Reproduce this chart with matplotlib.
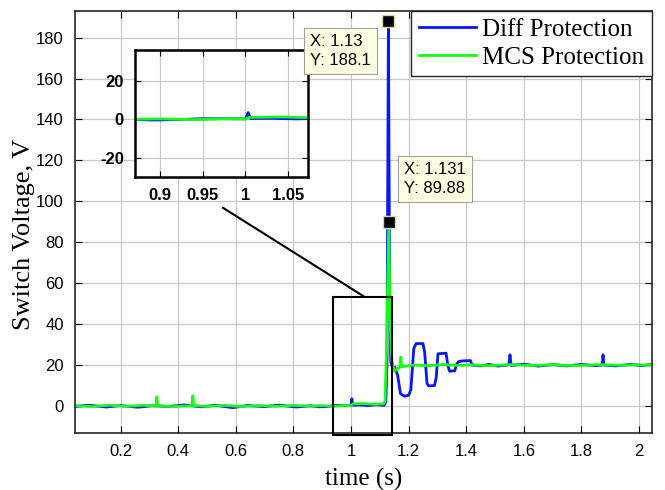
import matplotlib.pyplot as plt
from matplotlib.patches import Rectangle

# ---- data ----
diff_t = [0.04, 0.09, 0.15, 0.2, 0.26, 0.31, 0.37, 0.42, 0.48, 0.53, 0.59, 0.64,
          0.7, 0.75, 0.81, 0.86, 0.89, 0.92, 0.95, 0.97, 1.0, 1.003, 1.006, 1.03,
          1.06, 1.09, 1.115, 1.121, 1.125, 1.13, 1.134, 1.138, 1.145, 1.152, 1.162,
          1.172, 1.185, 1.2, 1.208, 1.218, 1.226, 1.25, 1.256, 1.264, 1.27, 1.29,
          1.296, 1.302, 1.33, 1.336, 1.342, 1.36, 1.366, 1.372, 1.385, 1.415, 1.42,
          1.45, 1.48, 1.51, 1.548, 1.552, 1.556, 1.6, 1.65, 1.7, 1.75, 1.8, 1.85,
          1.872, 1.875, 1.878, 1.92, 1.97, 2.01, 2.045]
diff_v = [-0.3, 0.4, -0.5, 0.2, -0.6, 0.1, -0.2, 0.5, -0.4, 0.3, -0.8, 0.2,
          -0.3, 0.4, -0.5, 0.1, -0.4, -0.2, 0.3, 0.3, 0.2, 3.5, 0.4, 0.5,
          0.2, 0.6, 0.3, 2.0, 20.0, 188.1, 60.0, 22.0, 18.0, 19.0, 15.0,
          6.0, 4.8, 5.2, 8.0, 28.0, 30.5, 30.5, 26.0, 11.0, 9.8, 10.0,
          14.0, 25.5, 25.8, 20.0, 17.0, 17.2, 20.0, 21.6, 22.0, 22.2, 20.0,
          19.6, 20.3, 19.5, 20.1, 25.0, 19.8, 20.4, 19.5, 20.2, 19.6, 20.3, 19.7,
          20.0, 25.0, 20.0, 19.6, 20.3, 19.8, 20.2]

mcs_t = [0.04, 0.1, 0.16, 0.22, 0.28, 0.323, 0.326, 0.329, 0.38, 0.448, 0.451,
         0.454, 0.5, 0.56, 0.62, 0.68, 0.74, 0.8, 0.86, 0.9, 0.94, 0.98, 1.0,
         1.005, 1.04, 1.08, 1.112, 1.118, 1.124, 1.131, 1.136, 1.142, 1.15, 1.16,
         1.17, 1.173, 1.176, 1.179, 1.19, 1.22, 1.27, 1.32, 1.37, 1.42, 1.48,
         1.55, 1.62, 1.7, 1.78, 1.86, 1.94, 2.0, 2.045]
mcs_v = [0.2, -0.3, 0.4, -0.2, 0.3, 0.0, 4.5, 0.2, -0.3, 0.1, 5.0,
         0.2, -0.2, 0.3, -0.3, 0.2, -0.2, 0.3, -0.1, 0.2, -0.2, 0.3, 0.2,
         1.0, 1.2, 0.8, 1.0, 2.0, 30.0, 89.88, 40.0, 22.0, 17.0, 18.0,
         19.0, 24.0, 19.0, 19.2, 19.5, 20.0, 19.7, 20.2, 19.8, 20.1, 19.7,
         20.2, 19.8, 20.1, 19.7, 20.2, 19.9, 20.1, 20.0]

x_ticks = [0.2, 0.4, 0.6, 0.8, 1.0, 1.2, 1.4, 1.6, 1.8, 2.0]
x_labels = ['0.2', '0.4', '0.6', '0.8', '1', '1.2', '1.4', '1.6', '1.8', '2']
y_ticks = [0, 20, 40, 60, 80, 100, 120, 140, 160, 180]
inset_x_ticks = [0.9, 0.95, 1.0, 1.05]
inset_x_labels = ['0.9', '0.95', '1', '1.05']
inset_y_ticks = [-20, 0, 20]

tip1 = (1.13, 188.1)
tip2 = (1.131, 89.88)

BLUE = '#0a14ff'
GREEN = '#14ff14'
GRID = '#c8c8c8'

plt.rcParams['font.family'] = 'Liberation Sans'
plt.rcParams['axes.unicode_minus'] = False

fig = plt.figure(figsize=(6.65, 4.9), dpi=100)
ax = fig.add_axes([75 / 665, 1 - 433 / 490, 577 / 665, 422 / 490])

ax.plot(diff_t, diff_v, color=BLUE, lw=2.0, label='Diff Protection')
ax.plot(mcs_t, mcs_v, color=GREEN, lw=2.0, label='MCS Protection')

ax.set_xlim(0.042, 2.045)
ax.set_ylim(-13.2, 193)
ax.set_xticks(x_ticks)
ax.set_xticklabels(x_labels)
ax.set_yticks(y_ticks)
ax.grid(True, color=GRID, lw=0.9)
ax.set_axisbelow(True)
ax.tick_params(direction='in', top=True, right=True, length=5, labelsize=12, pad=8)
for s in ax.spines.values():
    s.set_linewidth(1.2)
    s.set_color('#262626')

ax.set_xlabel('time (s)', fontsize=18, family='Liberation Serif', labelpad=6)
ax.set_ylabel('Switch Voltage, V', fontsize=19, family='Liberation Serif')
ax.yaxis.set_label_coords(-0.07, 0.47)

leg = ax.legend(loc='upper right', borderaxespad=0, fancybox=False, framealpha=1,
                edgecolor='#262626', handlelength=2.3, handletextpad=0.25,
                labelspacing=0.2, borderpad=0.3,
                prop={'family': 'Liberation Serif', 'size': 18})
leg.get_frame().set_linewidth(1.0)

# zoom box and connector
ax.add_patch(Rectangle((0.9375, -14.0), 0.2045, 67.3, fill=False, ec='black',
                       lw=1.5, clip_on=False, zorder=4))
ax.plot([1.045, 0.556], [53.5, 96.8], color='black', lw=1.5, zorder=4)

# data tips
for tx, ty in [tip1, tip2]:
    ax.plot([tx], [ty], marker='s', ms=9, color='black', mec='#d8d8a8', mew=1,
            zorder=6, clip_on=False)
bbox = dict(boxstyle='square,pad=0.35', fc='#ffffe1', ec='#a0a0a0', lw=0.8)
fig.text(310 / 665, 1 - 34 / 490, 'X: 1.13\nY: 188.1', fontsize=12, va='top',
         ha='left', bbox=bbox, linespacing=1.35, zorder=10)
fig.text(404 / 665, 1 - 162 / 490, 'X: 1.131\nY: 89.88', fontsize=12, va='top',
         ha='left', bbox=bbox, linespacing=1.35, zorder=10)

# inset
ins = fig.add_axes([135 / 665, 1 - 177 / 490, 173 / 665, 127 / 490])
ins.plot(diff_t, diff_v, color=BLUE, lw=2.0)
ins.plot(mcs_t, mcs_v, color=GREEN, lw=2.0)
ins.set_xlim(0.871, 1.073)
ins.set_ylim(-30, 36)
ins.set_xticks(inset_x_ticks)
ins.set_xticklabels(inset_x_labels)
ins.set_yticks(inset_y_ticks)
ins.grid(True, color=GRID, lw=0.9)
ins.set_axisbelow(True)
ins.tick_params(direction='in', top=True, right=True, length=4, labelsize=12, pad=8)
for lab in ins.get_xticklabels() + ins.get_yticklabels():
    lab.set_fontweight('bold')
for s in ins.spines.values():
    s.set_linewidth(1.8)
    s.set_color('black')

fig.savefig('out.png', dpi=100)
